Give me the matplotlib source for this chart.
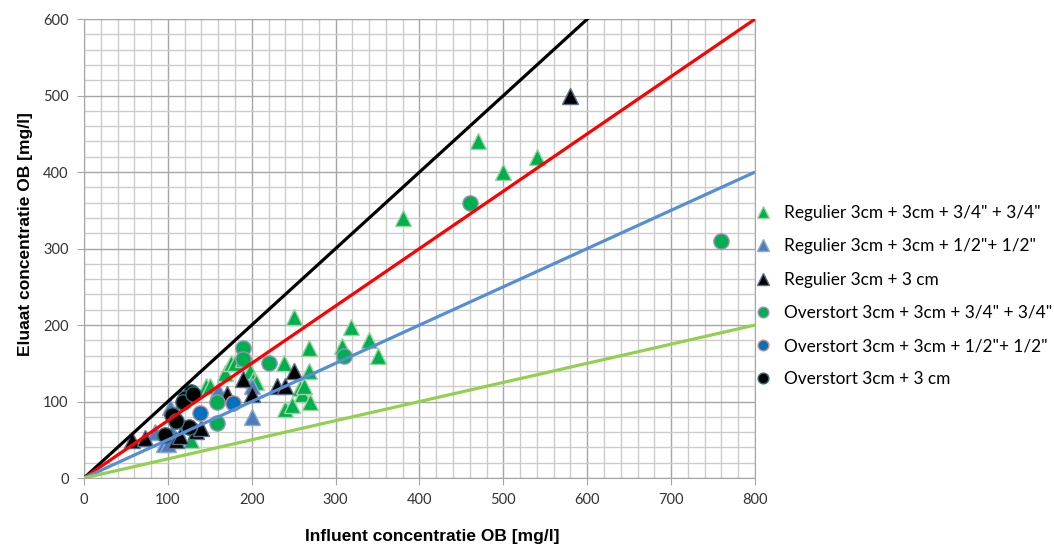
import matplotlib
matplotlib.use("AGG")
import matplotlib.pyplot as plt
import numpy as np
from matplotlib.ticker import MultipleLocator

# influent (x) vs eluaat (y) concentrations, mg/l
reg_34_x = [110, 128, 145, 150, 168, 175, 180, 190, 198, 202, 205, 238, 240, 248, 250, 257, 260, 262, 268, 268, 270, 308, 318, 340, 350, 380, 470, 500, 540]
reg_34_y = [50, 50, 120, 120, 137, 150, 150, 155, 140, 128, 125, 150, 90, 95, 210, 118, 110, 120, 170, 140, 100, 173, 198, 180, 160, 340, 440, 400, 420]
reg_12_x = [85, 95, 100, 102, 105, 110, 160, 200, 200]
reg_12_y = [60, 45, 45, 93, 60, 85, 115, 120, 80]
reg_3_x = [57, 73, 110, 115, 134, 140, 170, 190, 200, 230, 240, 250, 580]
reg_3_y = [50, 52, 50, 55, 62, 65, 110, 130, 110, 120, 120, 140, 500]
ov_34_x = [190, 190, 220, 158, 158, 310, 460, 760]
ov_34_y = [170, 155, 150, 100, 72, 160, 360, 310]
ov_12_x = [138, 178]
ov_12_y = [85, 98]
ov_3_x = [127, 120, 118, 105, 125, 97, 130, 110]
ov_3_y = [113, 105, 100, 82, 67, 56, 110, 75]

# reference lines y = a*x
slopes = [1.0, 0.75, 0.5, 0.25]
slope_colors = ["#000000", "#FF0000", "#558ED5", "#92D050"]

series = [
    (reg_34_x, reg_34_y, "^", "#00B050", "#9ED39E", 'Regulier 3cm + 3cm + 3/4" + 3/4"'),
    (reg_12_x, reg_12_y, "^", "#4F7DB8", "#8EA9D0", 'Regulier 3cm + 3cm + 1/2"+ 1/2"'),
    (reg_3_x, reg_3_y, "^", "#000000", "#5A6E8C", "Regulier 3cm + 3 cm"),
    (ov_34_x, ov_34_y, "o", "#00B050", "#9E90B8", 'Overstort 3cm + 3cm + 3/4" + 3/4"'),
    (ov_12_x, ov_12_y, "o", "#0070C0", "#D08A8A", 'Overstort 3cm + 3cm + 1/2"+ 1/2"'),
    (ov_3_x, ov_3_y, "o", "#000000", "#2E6E78", "Overstort 3cm + 3 cm"),
]

fig = plt.figure(figsize=(10.54, 5.46), dpi=100)
ax = fig.add_axes([0.0797, 0.1245, 0.6366, 0.8405])

for xs, ys, m, fc, ec, lab in series:
    ms = 12 if m == "^" else 11
    ax.plot(xs, ys, linestyle="none", marker=m, markersize=ms, markerfacecolor=fc,
            markeredgecolor=ec, markeredgewidth=1.0, label=lab, zorder=3)

xl = np.array([0, 800])
for a, c in zip(slopes, slope_colors):
    ax.plot(xl, a * xl, color=c, linewidth=2.3, zorder=4, solid_capstyle="butt")

ax.set_xlim(0, 800)
ax.set_ylim(0, 600)
ax.xaxis.set_major_locator(MultipleLocator(100))
ax.yaxis.set_major_locator(MultipleLocator(100))
ax.xaxis.set_minor_locator(MultipleLocator(20))
ax.yaxis.set_minor_locator(MultipleLocator(20))
ax.grid(which="minor", color="#CCCCCC", linewidth=1.0, zorder=0)
ax.grid(which="major", color="#A6A6A6", linewidth=1.0, zorder=0)
ax.set_axisbelow(True)
for s in ax.spines.values():
    s.set_color("#A6A6A6")
ax.tick_params(which="major", length=5, color="#A6A6A6", labelsize=10.5, labelcolor="#333333", pad=6)
ax.tick_params(which="minor", length=0)
for t in ax.get_xticklabels() + ax.get_yticklabels():
    t.set_fontfamily("Lato")

ax.set_xlabel("Influent concentratie OB [mg/l]", fontsize=12.5, fontweight="bold",
              fontfamily="Liberation Sans")
ax.set_ylabel("Eluaat concentratie OB [mg/l]", fontsize=12.5, fontweight="bold",
              fontfamily="Liberation Sans")
ax.xaxis.set_label_coords(0.519, -0.11)
ax.yaxis.set_label_coords(-0.076, 0.532)

leg = fig.legend(loc="upper left", bbox_to_anchor=(0.7016, 0.6525), frameon=False,
                 markerscale=0.7, handlelength=0.9, handletextpad=0.78, labelspacing=1.0,
                 prop={"family": "Lato", "size": 12.4})

fig.savefig("out.png", dpi=100)
